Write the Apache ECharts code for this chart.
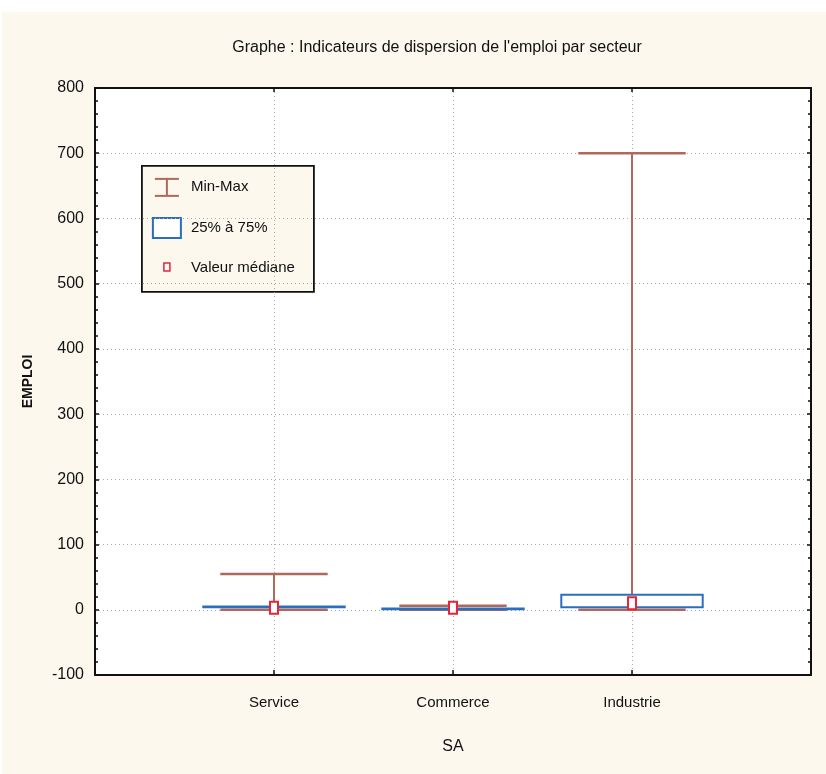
<!DOCTYPE html>
<html>
<head>
<meta charset="utf-8">
<script src="https://cdn.jsdelivr.net/npm/echarts@6/dist/echarts.min.js"></script>
<style>
html,body{margin:0;padding:0;background:#fff;}
#chart{width:826px;height:774px;}
</style>
</head>
<body>
<div id="chart"></div>
<script>
// ---- data ----
const categories = ['Service', 'Commerce', 'Industrie'];
const minValues = [0, 0, 0];
const q1Values = [4, 1, 4];
const medianValues = [3, 3, 10];
const q3Values = [5, 2, 23];
const maxValues = [55, 6, 700];
const yTicks = [-100, 0, 100, 200, 300, 400, 500, 600, 700, 800];

const FONT = "'Liberation Sans Narrow', 'Arial Narrow', 'Liberation Sans', Arial, sans-serif";
const BROWN = '#b0685a';
const BLUE = '#2a6fbf';
const RED = '#e5253a';

const chart = echarts.init(document.getElementById('chart'), null, {renderer: 'canvas'});

const boxData = categories.map((c, i) => [i + 1, minValues[i], q1Values[i], medianValues[i], q3Values[i], maxValues[i]]);

function renderBox(params, api) {
  const x = api.value(0);
  const pMin = api.coord([x, api.value(1)]);
  const pQ1 = api.coord([x, api.value(2)]);
  const pMed = api.coord([x, api.value(3)]);
  const pQ3 = api.coord([x, api.value(4)]);
  const pMax = api.coord([x, api.value(5)]);
  const boxW = api.size([0.79, 0])[0];
  const capW = api.size([0.6, 0])[0];
  const cx = pMin[0];
  const children = [
    {type: 'line', shape: {x1: cx, y1: pMax[1], x2: cx, y2: pMin[1]}, style: {stroke: BROWN, lineWidth: 2}},
    {type: 'line', shape: {x1: cx - capW / 2, y1: pMax[1], x2: cx + capW / 2, y2: pMax[1]}, style: {stroke: BROWN, lineWidth: 2.5}},
    {type: 'line', shape: {x1: cx - capW / 2, y1: pMin[1], x2: cx + capW / 2, y2: pMin[1]}, style: {stroke: BROWN, lineWidth: 2.5}},
    {type: 'rect', shape: {x: cx - boxW / 2, y: pQ3[1], width: boxW, height: Math.max(pQ1[1] - pQ3[1], 0.3)}, style: {fill: '#fff', stroke: BLUE, lineWidth: 2}},
    {type: 'rect', shape: {x: cx - 4, y: pMed[1] - 6, width: 8, height: 12}, style: {fill: '#fff', stroke: RED, lineWidth: 2}}
  ];
  return {type: 'group', children: children};
}

const legendX = 141, legendY = 165;
const option = {
  backgroundColor: '#fff',
  animation: false,
  title: {
    text: "Graphe : Indicateurs de dispersion de l'emploi par secteur",
    left: 432, top: 35, textAlign: 'center',
    textStyle: {fontFamily: FONT, fontSize: 16, fontWeight: 'normal', color: '#111'}
  },
  graphic: [
    {type: 'rect', z: -10, silent: true, shape: {x: 2, y: 12, width: 824, height: 762}, style: {fill: '#fcf8ee'}},
    {type: 'group', left: legendX, top: legendY, z: 100, children: [
      {type: 'rect', shape: {x: 0, y: 0, width: 172, height: 126}, style: {fill: '#fcf8ee', stroke: '#111', lineWidth: 1.8}},
      {type: 'line', shape: {x1: 13, y1: 13, x2: 37, y2: 13}, style: {stroke: BROWN, lineWidth: 2}},
      {type: 'line', shape: {x1: 13, y1: 30, x2: 37, y2: 30}, style: {stroke: BROWN, lineWidth: 2}},
      {type: 'line', shape: {x1: 25, y1: 13, x2: 25, y2: 30}, style: {stroke: BROWN, lineWidth: 2}},
      {type: 'text', style: {x: 49, y: 21, text: 'Min-Max', font: '15px ' + FONT, fill: '#111', verticalAlign: 'middle'}},
      {type: 'rect', shape: {x: 11, y: 52, width: 28, height: 20}, style: {fill: '#fff', stroke: BLUE, lineWidth: 2}},
      {type: 'text', style: {x: 49, y: 62, text: '25% à 75%', font: '15px ' + FONT, fill: '#111', verticalAlign: 'middle'}},
      {type: 'rect', shape: {x: 22, y: 97, width: 6, height: 8}, style: {fill: '#fff', stroke: RED, lineWidth: 1.5}},
      {type: 'text', style: {x: 49, y: 102, text: 'Valeur médiane', font: '15px ' + FONT, fill: '#111', verticalAlign: 'middle'}}
    ]}
  ],
  grid: {left: 95, right: 15, top: 88, bottom: 99, show: true, backgroundColor: '#fff', borderWidth: 0},
  xAxis: [
    {
      type: 'value', min: 0, max: 4, interval: 1,
      name: 'SA', nameLocation: 'middle', nameGap: 64,
      nameTextStyle: {fontFamily: FONT, fontSize: 16, color: '#111'},
      axisLine: {show: true, onZero: false, lineStyle: {color: '#111', width: 2}},
      axisTick: {show: true, inside: true, length: 5, lineStyle: {color: '#111', width: 1.5}},
      axisLabel: {margin: 20, fontFamily: FONT, fontSize: 15, color: '#111',
        formatter: v => categories[v - 1] || ''},
      splitLine: {show: true, lineStyle: {color: '#aaa', type: [1, 3], width: 1}}
    },
    {
      type: 'value', position: 'top', min: 0, max: 4, interval: 1,
      axisLine: {show: true, onZero: false, lineStyle: {color: '#111', width: 2}},
      axisTick: {show: true, inside: true, length: 4, lineStyle: {color: '#111', width: 1.5}},
      axisLabel: {show: false}, splitLine: {show: false}
    }
  ],
  yAxis: [
    {
      type: 'value', min: yTicks[0], max: yTicks[yTicks.length - 1], interval: 100,
      name: 'EMPLOI', nameLocation: 'middle', nameGap: 60, nameRotate: 90,
      nameTextStyle: {fontFamily: "'Liberation Sans', Arial, sans-serif", fontSize: 14, fontWeight: 'bold', color: '#111'},
      axisLine: {show: true, onZero: false, lineStyle: {color: '#111', width: 2}},
      axisTick: {show: true, inside: true, length: 4, lineStyle: {color: '#111', width: 1.5}},
      minorTick: {show: true, splitNumber: 5, length: 3, lineStyle: {color: '#111', width: 1.5}},
      axisLabel: {margin: 11, fontFamily: FONT, fontSize: 16, color: '#111'},
      splitLine: {show: true, lineStyle: {color: '#aaa', type: [1, 3], width: 1}}
    },
    {
      type: 'value', position: 'right', min: yTicks[0], max: yTicks[yTicks.length - 1], interval: 100,
      axisLine: {show: true, onZero: false, lineStyle: {color: '#111', width: 2}},
      axisTick: {show: true, inside: true, length: 4, lineStyle: {color: '#111', width: 1.5}},
      minorTick: {show: true, splitNumber: 5, length: 3, lineStyle: {color: '#111', width: 1.5}},
      axisLabel: {show: false}, splitLine: {show: false}
    }
  ],
  series: [{
    type: 'custom',
    name: 'EMPLOI',
    xAxisIndex: 0, yAxisIndex: 0,
    renderItem: renderBox,
    encode: {x: 0, y: [1, 2, 3, 4, 5]},
    data: boxData,
    z: 5
  }]
};
chart.setOption(option);
</script>
</body>
</html>
